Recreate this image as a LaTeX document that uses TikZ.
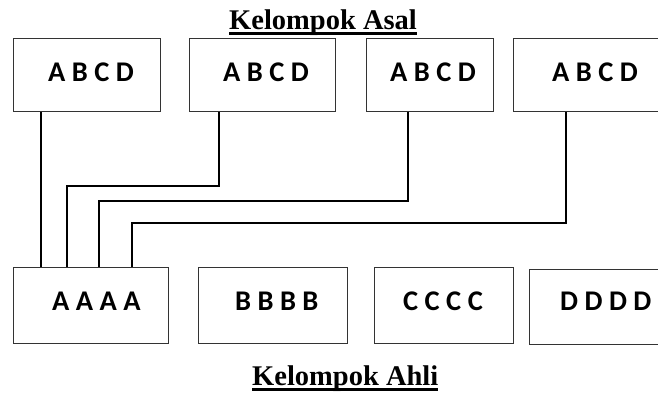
\documentclass[tikz,border=0pt]{standalone}
\usepackage{fontspec}
\setmainfont{Liberation Serif}
\newfontfamily\carlito{Carlito}
\usetikzlibrary{calc}
\newcommand\myul[1]{\setbox0\hbox{#1}\rlap{\rule[-6pt]{\wd0}{3pt}}\box0}
\tikzset{
  box/.style={draw=black!80, line width=0.9pt, inner sep=0pt, anchor=north west, minimum height=73pt},
  lbl/.style={font=\carlito\bfseries\fontsize{28.5}{30}\selectfont, anchor=base west, inner sep=0pt},
  ttl/.style={font=\bfseries\fontsize{28.5}{30}\selectfont, anchor=base west, inner sep=0pt},
  conn/.style={line width=1.3pt, black}
}
\begin{document}
\begin{tikzpicture}[x=1pt,y=1pt]
\useasboundingbox (0,0) rectangle (658,-394);
\clip (0,0) rectangle (658,-394);
% titles
\node[ttl] (asal) at (229,-29) {\myul{Kelompok Asal}};
\node[ttl] (ahli) at (252,-385) {\myul{Kelompok Ahli}};
% top boxes
\node[box, minimum width=147pt] (t1) at (13,-38) {};
\node[box, minimum width=146pt] (t2) at (189,-38) {};
\node[box, minimum width=127pt] (t3) at (366,-38) {};
\node[box, minimum width=190pt] (t4) at (513,-38) {};
\node[lbl] (l1) at (48,-81) {A B C D};
\node[lbl] (l2) at (223,-81) {A B C D};
\node[lbl] (l3) at (390,-81) {A B C D};
\node[lbl] (l4) at (552,-81) {A B C D};
% bottom boxes
\node[box, minimum width=155pt, minimum height=76pt] (a) at (13,-267) {};
\node[box, minimum width=149pt, minimum height=76pt] (b) at (198,-267) {};
\node[box, minimum width=139pt, minimum height=76pt] (c) at (374,-267) {};
\node[box, minimum width=190pt, minimum height=75pt] (d) at (529,-269) {};
\node[lbl] (la) at (52,-310) {A A A A};
\node[lbl] (lb) at (235,-310) {B B B B};
\node[lbl] (lc) at (403,-310) {C C C C};
\node[lbl] (ld) at (560,-310) {D D D D};
% connectors
\draw[conn] ([xshift=28pt]t1.south west) -- ([xshift=28pt]a.north west);
\draw[conn] ([xshift=30pt]t2.south west) |- ($(a.north west)+(54,81)$) -- ([xshift=54pt]a.north west);
\draw[conn] ([xshift=42pt]t3.south west) |- ($(a.north west)+(86,66)$) -- ([xshift=86pt]a.north west);
\draw[conn] ([xshift=53pt]t4.south west) |- ($(a.north west)+(119,44)$) -- ([xshift=119pt]a.north west);
\end{tikzpicture}
\end{document}
